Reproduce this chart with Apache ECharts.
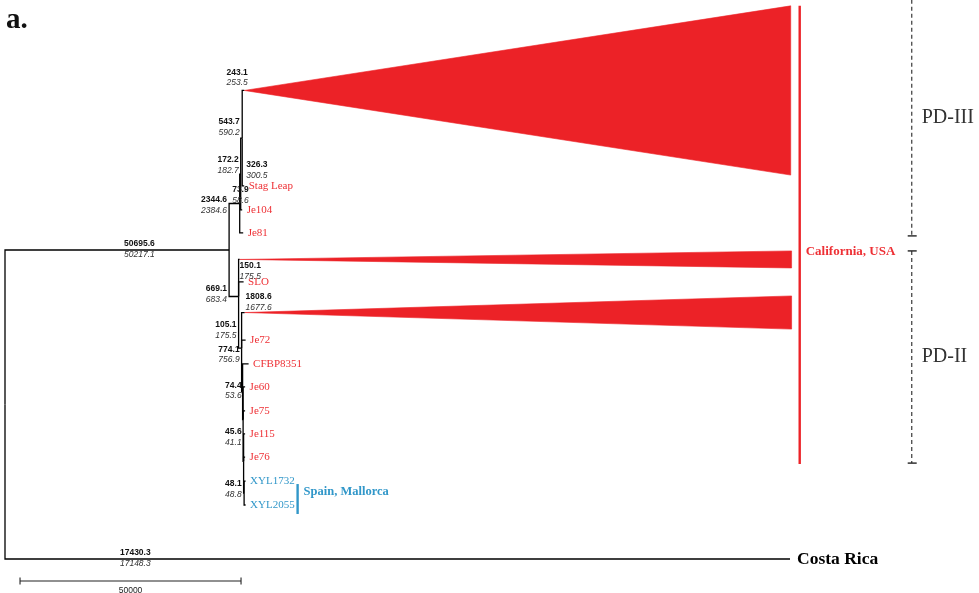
<!DOCTYPE html>
<html>
<head>
<meta charset="utf-8">
<script src="https://cdn.jsdelivr.net/npm/echarts@6/dist/echarts.min.js"></script>
<style>
  html, body { margin: 0; padding: 0; background: #ffffff; }
  #chart { width: 979px; height: 593px; }
</style>
</head>
<body>
<div id="chart"></div>
<script>
// ---- Tree topology: node, parent, branch length (same units as the scale bar) ----
const nodeIds = ['root', 'N1', 'N2', 'N4', 'N5', 'PD-III', 'Stag Leap', 'Je104', 'Je81',
  'N3', 'PD-II a', 'SLO', 'N6', 'PD-II b', 'Je72', 'N7', 'CFBP8351', 'N8', 'Je60', 'Je75',
  'N9', 'Je115', 'Je76', 'N10', 'XYL1732', 'XYL2055', 'Costa Rica'];
const nodeParents = [null, 'root', 'N1', 'N2', 'N4', 'N5', 'N5', 'N4', 'N2',
  'N1', 'N3', 'N3', 'N3', 'N6', 'N6', 'N6', 'N7', 'N7', 'N8', 'N8',
  'N8', 'N9', 'N9', 'N9', 'N10', 'N10', 'root'];
const branchLengths = [0, 50700, 2400, 226, 340, 452, 452, 340, 790,
  2150, 226, 1131, 680, 680, 905, 226, 1357, 113, 452, 452,
  113, 340, 340, 113, 340, 340, 177600];

// ---- Leaf order (row positions, top to bottom) ----
const leafNames = ['PD-III', 'Stag Leap', 'Je104', 'Je81', 'PD-II a', 'SLO', 'PD-II b', 'Je72',
  'CFBP8351', 'Je60', 'Je75', 'Je115', 'Je76', 'XYL1732', 'XYL2055', 'Costa Rica'];
const leafRows = [0.02, 4.05, 5.06, 6.03, 7.15, 8.10, 9.39, 10.55,
  11.56, 12.53, 13.54, 14.51, 15.49, 16.50, 17.51, 19.79];

// ---- Collapsed clades (drawn as triangles) ----
const collapsedNames = ['PD-III', 'PD-II a', 'PD-II b'];
const collapsedDepth = [123640, 124880, 123750];
const collapsedHalfRows = [3.57, 0.36, 0.70];

// ---- Leaf label groups ----
const californiaLeaves = ['Stag Leap', 'Je104', 'Je81', 'SLO', 'Je72', 'CFBP8351', 'Je60', 'Je75', 'Je115', 'Je76'];
const mallorcaLeaves = ['XYL1732', 'XYL2055'];
const outgroupLeaves = ['Costa Rica'];

// ---- Branch annotations (upper bold / lower italic) ----
const annotatedBranches = ['N1', 'N2', 'N4', 'N5', 'Je104', 'Stag Leap', 'PD-III', 'PD-II a',
  'N3', 'PD-II b', 'N6', 'N7', 'N8', 'N9', 'N10', 'Costa Rica'];
const annotUpper = ['50695.6', '2344.6', '172.2', '543.7', '73.9', '326.3', '243.1', '150.1',
  '669.1', '1808.6', '105.1', '774.1', '74.4', '45.6', '48.1', '17430.3'];
const annotLower = ['50217.1', '2384.6', '182.7', '590.2', '58.6', '300.5', '253.5', '175.5',
  '683.4', '1677.6', '175.5', '756.9', '53.6', '41.1', '48.8', '17148.3'];

// ---- Scale bar ----
const scaleBarLength = 50000;
const scaleBarLabel = '50000';
const scaleBarStart = [3400, 20.72];

// ---- Clade brackets ----
const bracketLabels = ['PD-III', 'PD-II'];
const bracketFrom = ['PD-III', 'PD-II a'];
const bracketTo = ['Je81', 'Je76'];

// ================= layout of the tree =================
const RED = '#EC2227';
const RED_TEXT = '#EE3035';
const BLUE = '#3197C9';
const SERIF = '"Liberation Serif", "Times New Roman", serif';
const SANS = '"Liberation Sans", Arial, sans-serif';

const idx = {};
nodeIds.forEach((n, i) => { idx[n] = i; });
const children = nodeIds.map(() => []);
nodeParents.forEach((p, i) => { if (p !== null) children[idx[p]].push(i); });

const nodeX = new Array(nodeIds.length);
(function setX(i, base) {
  nodeX[i] = base + branchLengths[i];
  children[i].forEach(c => setX(c, nodeX[i]));
})(idx.root, 0);

const nodeY = new Array(nodeIds.length);
(function setY(i) {
  if (!children[i].length) {
    nodeY[i] = leafRows[leafNames.indexOf(nodeIds[i])];
  } else {
    children[i].forEach(setY);
    nodeY[i] = children[i].reduce((s, c) => s + nodeY[c], 0) / children[i].length;
  }
})(idx.root);

// Branch elbows: parent (x, y) -> (parent x, child y) -> (child x, child y)
const branchData = [];
nodeIds.forEach((n, i) => {
  if (nodeParents[i] === null) return;
  const p = idx[nodeParents[i]];
  branchData.push([nodeX[p], nodeY[p], nodeX[i], nodeY[i]]);
});

const triangleData = collapsedNames.map((n, k) => [nodeX[idx[n]], nodeY[idx[n]], collapsedDepth[k], collapsedHalfRows[k]]);

const leafLabelNames = californiaLeaves.concat(mallorcaLeaves, outgroupLeaves);
const leafLabelData = leafLabelNames.map(n => [nodeX[idx[n]], nodeY[idx[n]]]);

// Placement of each annotation relative to its branch (pixels)
const annotPlacement = {
  'N1': { frac: 0.6, align: 'center', dx: 0, dy: -6 },
  'N2': { align: 'right', dx: -2, dy: -3.5 },
  'N4': { align: 'right', dx: -1, dy: -14 },
  'N5': { align: 'right', dx: -1, dy: -16 },
  'Je104': { align: 'right', dx: 8, dy: -20 },
  'Stag Leap': { align: 'left', dx: 4, dy: -21 },
  'PD-III': { align: 'center', dx: -5, dy: -18 },
  'PD-II a': { align: 'left', dx: 1, dy: 6.5 },
  'N3': { align: 'right', dx: -2, dy: -7.4 },
  'PD-II b': { align: 'left', dx: 4, dy: -15.5 },
  'N6': { align: 'right', dx: -2, dy: -23 },
  'N7': { align: 'right', dx: -2, dy: -42 },
  'N8': { align: 'right', dx: -1, dy: -34 },
  'N9': { align: 'right', dx: -1.5, dy: -29 },
  'N10': { align: 'right', dx: -2, dy: -9 },
  'Costa Rica': { frac: 0.166, align: 'center', dx: 0, dy: -6 }
};
const annotData = annotatedBranches.map(n => {
  const i = idx[n];
  const p = idx[nodeParents[i]];
  return [nodeX[p], nodeY[i], nodeX[i]];
});

const chart = echarts.init(document.getElementById('chart'), null, { renderer: 'canvas' });

const option = {
  animation: false,
  backgroundColor: '#ffffff',
  grid: { left: 0, right: 0, top: 0, bottom: 0 },
  xAxis: { type: 'value', min: -1131, max: 220358, show: false },
  yAxis: { type: 'value', min: -3.797, max: 21.224, inverse: true, show: false },
  graphic: [{
    type: 'text', left: 6, top: 6,
    style: { text: 'a.', font: 'bold 29px ' + SERIF, fill: '#111' }
  }],
  series: [
    {
      // collapsed clades
      type: 'custom', clip: false, silent: true,
      data: triangleData,
      renderItem: (params, api) => {
        const ax = api.value(0), ay = api.value(1), d = api.value(2), h = api.value(3);
        return {
          type: 'polygon',
          shape: { points: [api.coord([ax, ay]), api.coord([ax + d, ay - h]), api.coord([ax + d, ay + h])] },
          style: { fill: RED, stroke: RED, lineWidth: 0.6 }
        };
      }
    },
    {
      // branches
      type: 'custom', clip: false, silent: true,
      data: branchData,
      renderItem: (params, api) => {
        const px = api.value(0), py = api.value(1), cx = api.value(2), cy = api.value(3);
        return {
          type: 'polyline',
          shape: { points: [api.coord([px, py]), api.coord([px, cy]), api.coord([cx, cy])] },
          style: { stroke: '#000', lineWidth: 1.3, fill: null }
        };
      }
    },
    {
      // leaf names
      type: 'custom', clip: false, silent: true,
      data: leafLabelData,
      renderItem: (params, api) => {
        const name = leafLabelNames[params.dataIndex];
        const pt = api.coord([api.value(0), api.value(1)]);
        let fill = RED_TEXT, font = '11px ' + SERIF, dx = 4.5;
        if (mallorcaLeaves.includes(name)) fill = BLUE;
        if (outgroupLeaves.includes(name)) { fill = '#000'; font = 'bold 17.5px ' + SERIF; dx = 7; }
        return {
          type: 'text',
          style: { x: pt[0] + dx, y: pt[1] + 0.5, text: name, fill: fill, font: font, align: 'left', verticalAlign: 'middle' }
        };
      }
    },
    {
      // branch annotations
      type: 'custom', clip: false, silent: true,
      data: annotData,
      renderItem: (params, api) => {
        const name = annotatedBranches[params.dataIndex];
        const pl = annotPlacement[name];
        const a = api.coord([api.value(0), api.value(1)]);
        const b = api.coord([api.value(2), api.value(1)]);
        const x = pl.frac !== undefined ? a[0] + (b[0] - a[0]) * pl.frac : a[0];
        return {
          type: 'text',
          style: {
            x: x + pl.dx, y: a[1] + pl.dy + 5,
            text: '{u|' + annotUpper[params.dataIndex] + '}\n{l|' + annotLower[params.dataIndex] + '}',
            align: pl.align, verticalAlign: 'middle',
            rich: {
              u: { font: 'bold 8.5px ' + SANS, fill: '#111', lineHeight: 10.5, align: pl.align },
              l: { font: 'italic 8.5px ' + SANS, fill: '#333', lineHeight: 10.5, align: pl.align }
            }
          }
        };
      }
    },
    {
      // scale bar
      type: 'custom', clip: false, silent: true,
      data: [[scaleBarStart[0], scaleBarStart[1], scaleBarLength]],
      renderItem: (params, api) => {
        const a = api.coord([api.value(0), api.value(1)]);
        const b = api.coord([api.value(0) + api.value(2), api.value(1)]);
        const st = { stroke: '#222', lineWidth: 1.1 };
        return {
          type: 'group',
          children: [
            { type: 'line', shape: { x1: a[0], y1: a[1], x2: b[0], y2: b[1] }, style: st },
            { type: 'line', shape: { x1: a[0], y1: a[1] - 3.5, x2: a[0], y2: a[1] + 3.5 }, style: st },
            { type: 'line', shape: { x1: b[0], y1: b[1] - 3.5, x2: b[0], y2: b[1] + 3.5 }, style: st },
            { type: 'text', style: { x: (a[0] + b[0]) / 2, y: a[1] + 10, text: scaleBarLabel, font: '8.5px ' + SANS, fill: '#222', align: 'center', verticalAlign: 'middle' } }
          ]
        };
      }
    },
    {
      // geographic bars and clade brackets
      type: 'custom', clip: false, silent: true,
      data: [[0]],
      renderItem: (params, api) => {
        const rowPx = r => api.coord([0, r])[1];
        const leafTop = n => {
          const k = collapsedNames.indexOf(n);
          const r = nodeY[idx[n]];
          return k >= 0 ? rowPx(r - collapsedHalfRows[k]) : rowPx(r);
        };
        const leafBottom = n => {
          const k = collapsedNames.indexOf(n);
          const r = nodeY[idx[n]];
          return k >= 0 ? rowPx(r + collapsedHalfRows[k]) : rowPx(r);
        };
        const els = [];
        // California bar
        const triRight = api.coord([nodeX[idx['PD-III']] + collapsedDepth[0], 0])[0];
        const cx = triRight + 9;
        const cTop = leafTop('PD-III'), cBot = leafBottom('Je76') + 7;
        els.push({ type: 'line', shape: { x1: cx, y1: cTop, x2: cx, y2: cBot }, style: { stroke: RED, lineWidth: 2.4 } });
        els.push({ type: 'text', style: { x: cx + 6, y: rowPx(nodeY[idx['N1']]) + 2, text: 'California, USA', font: 'bold 13px ' + SERIF, fill: RED_TEXT, align: 'left', verticalAlign: 'middle' } });
        // Mallorca bar
        const mx = api.coord([nodeX[idx['N10']], 0])[0] + 53.5;
        const mTop = leafTop('XYL1732') + 3, mBot = leafBottom('XYL2055') + 9;
        els.push({ type: 'line', shape: { x1: mx, y1: mTop, x2: mx, y2: mBot }, style: { stroke: BLUE, lineWidth: 2.4 } });
        els.push({ type: 'text', style: { x: mx + 6, y: rowPx(nodeY[idx['N10']]) - 1, text: 'Spain, Mallorca', font: 'bold 12.5px ' + SERIF, fill: BLUE, align: 'left', verticalAlign: 'middle' } });
        // PD brackets
        const bx = cx + 112;
        const pads = [[-6, 3], [0, 6]];
        bracketLabels.forEach((lab, k) => {
          const y1 = leafTop(bracketFrom[k]) + pads[k][0];
          const y2 = leafBottom(bracketTo[k]) + pads[k][1];
          els.push({ type: 'line', shape: { x1: bx, y1: y1, x2: bx, y2: y2 }, style: { stroke: '#555', lineWidth: 1.4, lineDash: [4, 3] } });
          if (k > 0) els.push({ type: 'line', shape: { x1: bx - 4, y1: y1, x2: bx + 5, y2: y1 }, style: { stroke: '#222', lineWidth: 1.4 } });
          els.push({ type: 'line', shape: { x1: bx - 4, y1: y2, x2: bx + 5, y2: y2 }, style: { stroke: '#222', lineWidth: 1.4 } });
          els.push({ type: 'text', style: { x: bx + 10, y: (y1 + y2) / 2, text: lab, font: '20px ' + SERIF, fill: '#333', align: 'left', verticalAlign: 'middle' } });
        });
        return { type: 'group', children: els };
      }
    }
  ]
};

chart.setOption(option);
</script>
</body>
</html>
